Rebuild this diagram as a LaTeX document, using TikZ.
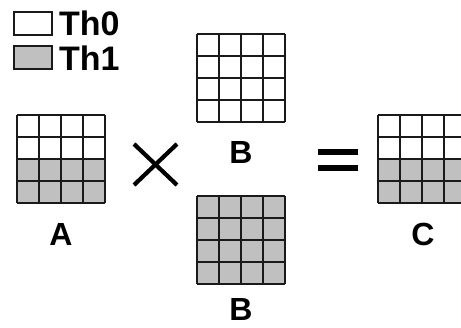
\documentclass[tikz,border=0pt]{standalone}
\usepackage{fontspec}
\setmainfont{Liberation Sans}
\definecolor{cellgray}{HTML}{C0C0C0}
\definecolor{gridline}{HTML}{1A1A1A}
\tikzset{
  gridln/.style={draw=gridline, line width=2pt},
  lbl/.style={font=\fontsize{32}{32}\selectfont\bfseries, inner sep=0pt, anchor=base},
  legtxt/.style={font=\fontsize{34}{34}\selectfont\bfseries, inner sep=0pt, anchor=base west},
  opline/.style={line width=4.2pt, line cap=butt},
}
% 4x4 grid of 22pt cells; #1 = top-left corner, #2 = number of grey rows counted from the bottom
\newcommand{\cellgrid}[3]{%
  \begin{scope}[shift={#1}]
    \fill[white] (0,0) rectangle (88,88);
    \ifnum#2>0 \fill[cellgray] (0,{88-22*#2}) rectangle (88,88);\fi
    \foreach \k in {0,22,44,66,88} {
      \draw[gridln] (\k,0) -- (\k,88);
      \draw[gridln] (0,\k) -- (88,\k);
    }
    \coordinate (#3) at (44,88);
  \end{scope}}
\begin{document}
\begin{tikzpicture}[x=1pt,y=-1pt]
  \useasboundingbox (0,0) rectangle (461,327);
  \fill[white] (0,0) rectangle (461,327);
  \begin{scope}
    \clip (0,0) rectangle (461,327);

    % legend
    \draw[gridln, fill=white] (14,12) rectangle (52,35);
    \draw[gridln, fill=cellgray] (14,46) rectangle (52,69);
    \node[legtxt] (th0) at (59,35) {Th0};
    \node[legtxt] (th1) at (59,70) {Th1};

    % matrices
    \cellgrid{(17,115)}{2}{abot}
    \cellgrid{(197,34)}{0}{btopbot}
    \cellgrid{(197,196)}{4}{bbotbot}
    \cellgrid{(378,115)}{2}{cbot}

    \node[lbl] (la) at (61,245) {A};
    \node[lbl] (lb1) at (241,163) {B};
    \node[lbl] (lb2) at (241,320.5) {B};
    \node[lbl] (lc) at (423,245) {C};

    % multiplication sign
    \draw[opline] (134,144) -- (177,185);
    \draw[opline] (177,144) -- (134,185);

    % equals sign
    \fill (318,149) rectangle (358,154.5);
    \fill (318,165) rectangle (358,170.5);
  \end{scope}
\end{tikzpicture}
\end{document}
